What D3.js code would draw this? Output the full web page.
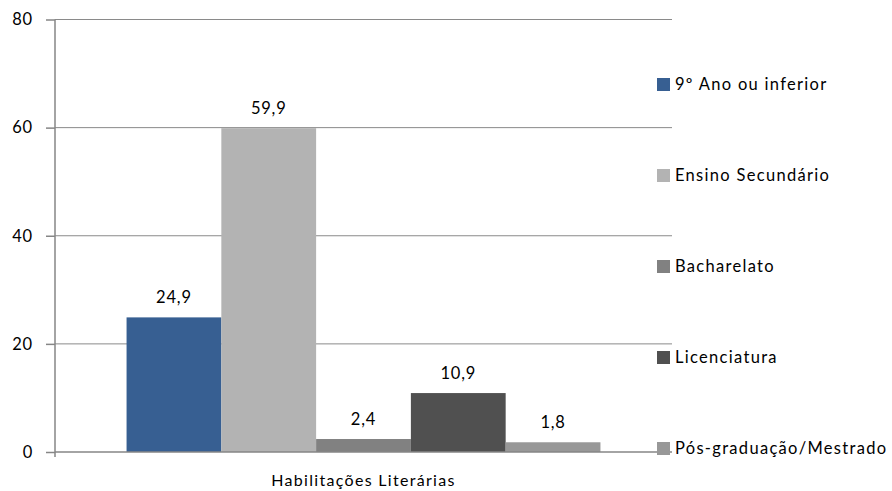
<!DOCTYPE html>
<html>
<head>
<meta charset="utf-8">
<script src="https://cdn.jsdelivr.net/npm/d3@7"></script>
<style>
  html, body { margin: 0; padding: 0; background: #fff; }
  svg text { font-family: Lato, "Open Sans", sans-serif; fill: #000; }
</style>
</head>
<body>
<svg id="chart" width="892" height="491"></svg>
<script>
// Habilitações literárias (%)
const category = "Habilitações Literárias";
const seriesNames = ["9º Ano ou inferior", "Ensino Secundário", "Bacharelato", "Licenciatura", "Pós-graduação/Mestrado"];
const seriesValues = [24.9, 59.9, 2.4, 10.9, 1.8];
const seriesColors = ["#375f92", "#b3b3b3", "#818181", "#505050", "#989898"];
const yTicks = [0, 20, 40, 60, 80];

const svg = d3.select("#chart");
const plot = { left: 55, right: 672, top: 19.5, bottom: 452 };

const y = d3.scaleLinear().domain([0, 80]).range([plot.bottom, plot.top]);
const x0 = d3.scaleBand().domain([category]).range([plot.left, plot.right]).paddingInner(0).paddingOuter(0.151);
const x1 = d3.scaleBand().domain(seriesNames).range([0, x0.bandwidth()]).padding(0);

// gridlines
svg.append("g")
  .selectAll("line")
  .data(yTicks.filter(t => t > 0))
  .join("line")
  .attr("x1", plot.left).attr("x2", plot.right)
  .attr("y1", d => y(d)).attr("y2", d => y(d))
  .attr("stroke", "#8a8a8a").attr("stroke-width", 1);

// y axis
const yAxis = svg.append("g")
  .attr("transform", `translate(${plot.left},0)`)
  .call(d3.axisLeft(y).tickValues(yTicks).tickSize(9).tickPadding(13).tickFormat(d3.format("d")));
yAxis.select(".domain").attr("stroke", "#868686").attr("stroke-width", 1.5)
  .attr("d", `M0,${plot.top}V${plot.bottom + 5}`);
yAxis.selectAll(".tick line").attr("stroke", "#868686").attr("stroke-width", 1.5);
yAxis.selectAll(".tick text").style("font-size", "16.5px").style("letter-spacing", "0.8px").attr("fill", "#000");

// bars
const g = svg.append("g").attr("transform", `translate(${x0(category)},0)`);
const data = seriesNames.map((n, i) => ({ name: n, value: seriesValues[i], color: seriesColors[i] }));
g.selectAll("rect")
  .data(data)
  .join("rect")
  .attr("x", d => x1(d.name))
  .attr("width", x1.bandwidth())
  .attr("y", d => y(d.value))
  .attr("height", d => y(0) - y(d.value))
  .attr("fill", d => d.color);

g.selectAll("text.val")
  .data(data)
  .join("text")
  .attr("class", "val")
  .attr("x", d => x1(d.name) + x1.bandwidth() / 2)
  .attr("y", d => y(d.value) - 14)
  .attr("text-anchor", "middle")
  .style("font-size", "16.5px")
  .style("letter-spacing", "0.8px")
  .text(d => d3.format(".1f")(d.value).replace(".", ","));

// x axis baseline
svg.append("line")
  .attr("x1", plot.left).attr("x2", plot.right)
  .attr("y1", plot.bottom).attr("y2", plot.bottom)
  .attr("stroke", "#868686").attr("stroke-width", 1.5);

svg.append("text")
  .attr("x", x0(category) + x0.bandwidth() / 2)
  .attr("y", 486)
  .attr("text-anchor", "middle")
  .style("font-size", "16px")
  .style("letter-spacing", "1.3px")
  .text(category);

// legend
const legendY = d3.scalePoint().domain(seriesNames).range([84, 448]);
const lg = svg.append("g").selectAll("g").data(data).join("g")
  .attr("transform", d => `translate(657,${legendY(d.name)})`);
lg.append("rect").attr("x", 0).attr("y", -6).attr("width", 13).attr("height", 13).attr("fill", d => d.color);
lg.append("text").attr("x", 18).attr("y", 0).attr("dy", "0.36em")
  .style("font-size", "16.5px").style("letter-spacing", "1.3px").text(d => d.name);
</script>
</body>
</html>
